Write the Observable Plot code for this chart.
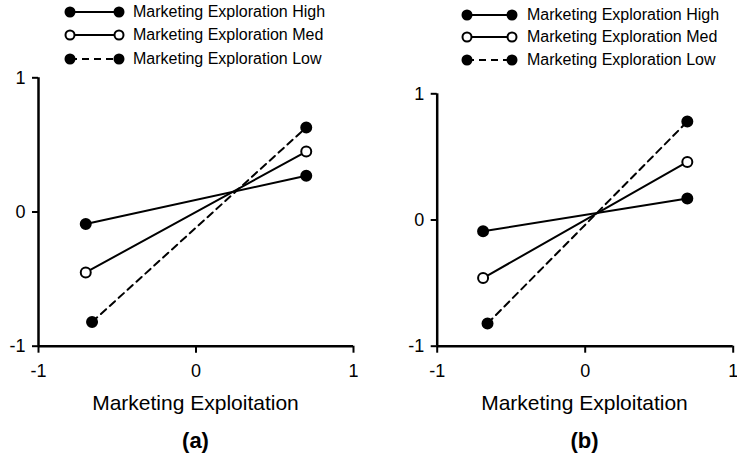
<!DOCTYPE html>
<html>
<head>
<meta charset="utf-8">
<script src="https://cdn.jsdelivr.net/npm/d3@7"></script>
<script src="https://cdn.jsdelivr.net/npm/@observablehq/plot@0.6"></script>
<style>
  html, body { margin: 0; padding: 0; background: #fff; }
  body { width: 737px; height: 459px; position: relative; overflow: hidden;
         font-family: "Liberation Sans", Arial, Helvetica, sans-serif; color: #000; }
  .abs { position: absolute; }
  .legrow { position: absolute; display: flex; align-items: center; font-size: 16px; white-space: nowrap; }
  .xlab { position: absolute; font-size: 21px; transform: translate(-50%, -50%); white-space: nowrap; }
  .cap { position: absolute; font-size: 22px; font-weight: bold; transform: translate(-50%, -50%); }
</style>
</head>
<body>
<script>
// ---- data ----
const seriesNames = ["Marketing Exploration High", "Marketing Exploration Med", "Marketing Exploration Low"];
const seriesFill = ["black", "white", "black"];
const seriesDash = [null, null, "7,5"];
const ticks = [-1, 0, 1];
const xLabel = "Marketing Exploitation";

// panel (a)
const aX0 = [-0.70, -0.70, -0.66];
const aY0 = [-0.09, -0.45, -0.82];
const aX1 = [0.70, 0.70, 0.70];
const aY1 = [0.27, 0.45, 0.63];

// panel (b)
const bX0 = [-0.69, -0.69, -0.66];
const bY0 = [-0.09, -0.46, -0.82];
const bX1 = [0.69, 0.69, 0.69];
const bY1 = [0.17, 0.46, 0.78];

const FONT = '"Liberation Sans", Arial, Helvetica, sans-serif';
const fmt = d => String(d);

function panel(x0, y0, x1, y1, cfg) {
  const data = seriesNames.flatMap((s, i) => [
    {s, i, x: x0[i], y: y0[i]},
    {s, i, x: x1[i], y: y1[i]}
  ]);
  const lineMarks = seriesNames.map((s, i) =>
    Plot.line(data.filter(d => d.i === i), {
      x: "x", y: "y", stroke: "black", strokeWidth: 2,
      strokeDasharray: seriesDash[i] || undefined
    }));
  return Plot.plot({
    width: cfg.width, height: cfg.height,
    marginLeft: cfg.ml, marginRight: cfg.mr, marginTop: cfg.mt, marginBottom: cfg.mb,
    x: {domain: [-1, 1]},
    y: {domain: [-1, 1]},
    style: {fontFamily: FONT, fontSize: "18px", color: "black", background: "white", overflow: "visible"},
    marks: [
      Plot.axisX({ticks, tickFormat: fmt, tickSize: 7, tickPadding: 11.5, strokeWidth: 2, label: null}),
      Plot.axisY({ticks, tickFormat: fmt, tickSize: 6, tickPadding: 7, strokeWidth: 2, label: null}),
      Plot.ruleX([-1], {stroke: "black", strokeWidth: 2.5}),
      Plot.ruleY([-1], {stroke: "black", strokeWidth: 2.5}),
      ...lineMarks,
      Plot.dot(data, {x: "x", y: "y", r: 5, fill: d => seriesFill[d.i], stroke: "black", strokeWidth: 2})
    ]
  });
}

function legend(left, rowsY, m0, m1, textX) {
  seriesNames.forEach((s, i) => {
    const row = document.createElement("div");
    row.className = "legrow";
    row.style.left = (m0 - 7) + "px";
    row.style.top = (rowsY[i] - 10) + "px";
    row.style.height = "20px";
    const w = m1 - m0 + 14;
    const dash = seriesDash[i] ? `stroke-dasharray="${seriesDash[i]}"` : "";
    row.innerHTML =
      `<svg width="${w}" height="20" style="display:block">
         <line x1="7" y1="10" x2="${w - 7}" y2="10" stroke="black" stroke-width="2" ${dash}/>
         <circle cx="7" cy="10" r="4.5" fill="${seriesFill[i]}" stroke="black" stroke-width="2"/>
         <circle cx="${w - 7}" cy="10" r="4.5" fill="${seriesFill[i]}" stroke="black" stroke-width="2"/>
       </svg>
       <span style="margin-left:${textX - m1 - 7}px">${s}</span>`;
    document.body.appendChild(row);
  });
}

function place(el, left, top) {
  el.style.position = "absolute";
  el.style.left = left + "px";
  el.style.top = top + "px";
  document.body.appendChild(el);
}

function text(cls, str, x, y) {
  const d = document.createElement("div");
  d.className = cls;
  d.textContent = str;
  d.style.left = x + "px";
  d.style.top = y + "px";
  document.body.appendChild(d);
}

// panel (a)
place(panel(aX0, aY0, aX1, aY1, {width: 370, height: 330, ml: 38, mr: 17, mt: 17.3, mb: 44.3}), 0, 60);
legend(0, [12, 35, 59], 70, 119, 133);
text("xlab", xLabel, 195.5, 403);
text("cap", "(a)", 195.5, 441);

// panel (b)
place(panel(bX0, bY0, bX1, bY1, {width: 367, height: 330, ml: 66.7, mr: 4.3, mt: 33.3, mb: 44.3}), 370, 60);
legend(370, [15, 37, 60], 467, 512, 527);
text("xlab", xLabel, 584.5, 403);
text("cap", "(b)", 584.5, 441);
</script>
</body>
</html>
